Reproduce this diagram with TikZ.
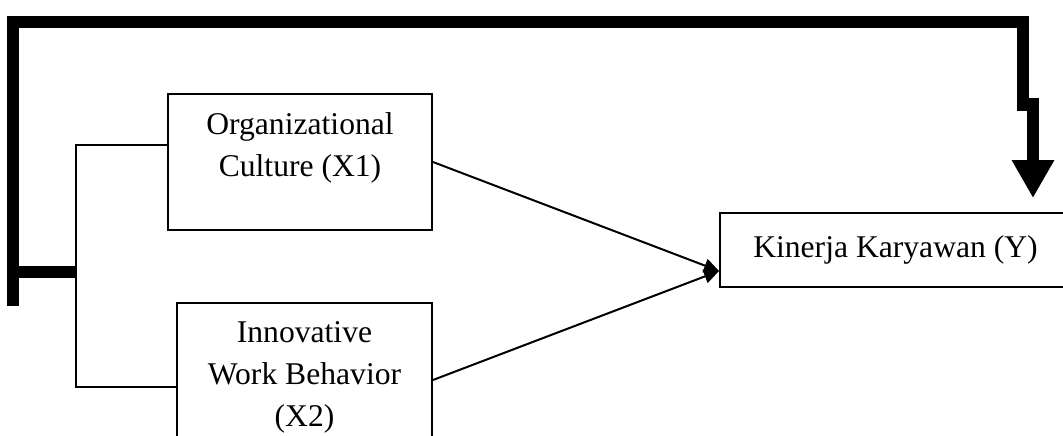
\documentclass[tikz,border=0pt]{standalone}
\usepackage{fontspec}
\setmainfont{Liberation Serif}
\usetikzlibrary{positioning, arrows.meta}

\begin{document}
\begin{tikzpicture}[x=0.02cm, y=-0.02cm,
    box/.style={draw, line width=0.04cm, inner sep=0pt},
    lbl/.style={align=center, inner sep=0pt, font=\fontsize{18pt}{23.9pt}\selectfont},
    link/.style={line width=0.04cm},
    bigline/.style={line width=0.24cm}]
  \useasboundingbox (0,0) rectangle (1063,436);
  % Variables
  \node[box, minimum width=5.28cm, minimum height=2.72cm] (x1) at (300,162) {};
  \node[lbl, below=0.39cm of x1.north] (x1t) {Organizational\\Culture (X1)};
  \node[box, minimum width=5.1cm, minimum height=3.08cm] (x2) at (304.5,380) {};
  \node[lbl, below=0.38cm of x2.north] (x2t) {Innovative\\Work Behavior\\(X2)};
  \node[box, lbl, minimum width=7.02cm, minimum height=1.48cm] (y) at (895.5,250) {Kinerja Karyawan (Y)};
  % Bracket
  \coordinate (bt) at (76,145);
  \coordinate (bm) at (76,272);
  \coordinate (bb) at (76,387);
  \draw[link] (x1.west |- bt) -- (bt) -- (bb) -- (x2.west |- bb);
  % Partial effects
  \coordinate (yin) at ([yshift=-0.42cm]y.west);
  \foreach \s in {x1,x2}{
    \draw[link, -{Triangle[length=0.3cm, width=0.28cm]}] (\s.east) -- (yin);
  }
  % Simultaneous effect
  \coordinate (lb) at (13,306);
  \coordinate (lm) at (13,272);
  \coordinate (tr) at (1023,22);
  \coordinate (j1) at (1023,111);
  \coordinate (j2) at (1033,98);
  \coordinate (ytop) at (1033,198);
  \draw[bigline] (lb) |- (tr) -- (j1);
  \draw[bigline] (lm) -- (bm);
  \draw[bigline, -{Triangle[length=0.76cm, width=0.8cm]}] (j2) -- (ytop);
\end{tikzpicture}
\end{document}
